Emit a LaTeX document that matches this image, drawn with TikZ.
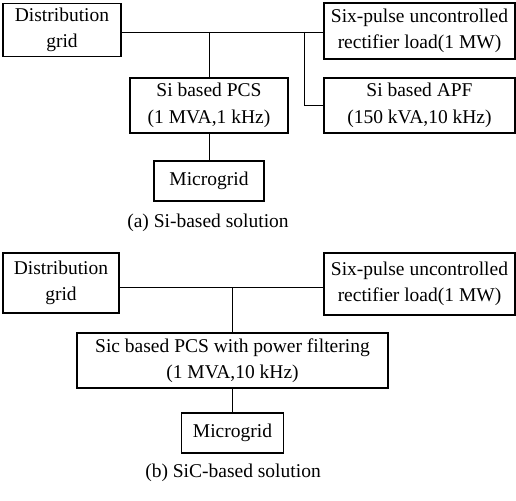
\documentclass[tikz,border=0pt]{standalone}
\usepackage{fontspec}
\setmainfont{Liberation Serif}
\begin{document}
\begin{tikzpicture}[x=1pt,y=1pt,
  box/.style={draw, line width=1.6pt, inner sep=0pt, align=center, font=\fontsize{19.5}{26.5}\selectfont},
  wire/.style={line width=0.9pt},
  captext/.style={font=\fontsize{19.5}{24}\selectfont}]
\useasboundingbox (0,0) rectangle (516,-500);
% (a)
\node[box, minimum width=118, minimum height=53] (dg) at (62,-30) {Distribution\\grid};
\node[box, minimum width=191, minimum height=56] (six) at (419.5,-31) {Six-pulse uncontrolled\\rectifier load(1 MW)};
\node[box, minimum width=158, minimum height=55] (pcs) at (209,-105.5) {Si based PCS\\(1 MVA,1 kHz)};
\node[box, minimum width=191, minimum height=55] (apf) at (419.5,-105.5) {Si based APF\\(150 kVA,10 kHz)};
\node[box, minimum width=110, minimum height=40] (mg) at (209,-181) {Microgrid};
\node[captext] (capa) at (208,-223) {(a) Si-based solution};
\coordinate (j1) at (209,-32);
\coordinate (j2) at (304,-32);
\draw[wire] (dg.east |- j1) -- (six.west |- j1);
\draw[wire] (j1) -- (pcs.north);
\draw[wire] (j2) |- (apf.west);
\draw[wire] (pcs.south) -- (mg.north);
% (b)
\node[box, minimum width=116, minimum height=60] (dgb) at (61,-283) {Distribution\\grid};
\node[box, minimum width=191, minimum height=62] (sixb) at (419.5,-284) {Six-pulse uncontrolled\\rectifier load(1 MW)};
\node[box, minimum width=311, minimum height=55] (pcsb) at (232.5,-360.5) {Sic based PCS with power filtering\\(1 MVA,10 kHz)};
\node[box, minimum width=102, minimum height=40] (mgb) at (232.5,-433) {Microgrid};
\node[captext] (capb) at (233,-473) {(b) SiC-based solution};
\coordinate (j3) at (232.5,-287);
\draw[wire] (dgb.east |- j3) -- (sixb.west |- j3);
\draw[wire] (j3) -- (pcsb.north);
\draw[wire] (pcsb.south) -- (mgb.north);
\end{tikzpicture}
\end{document}
